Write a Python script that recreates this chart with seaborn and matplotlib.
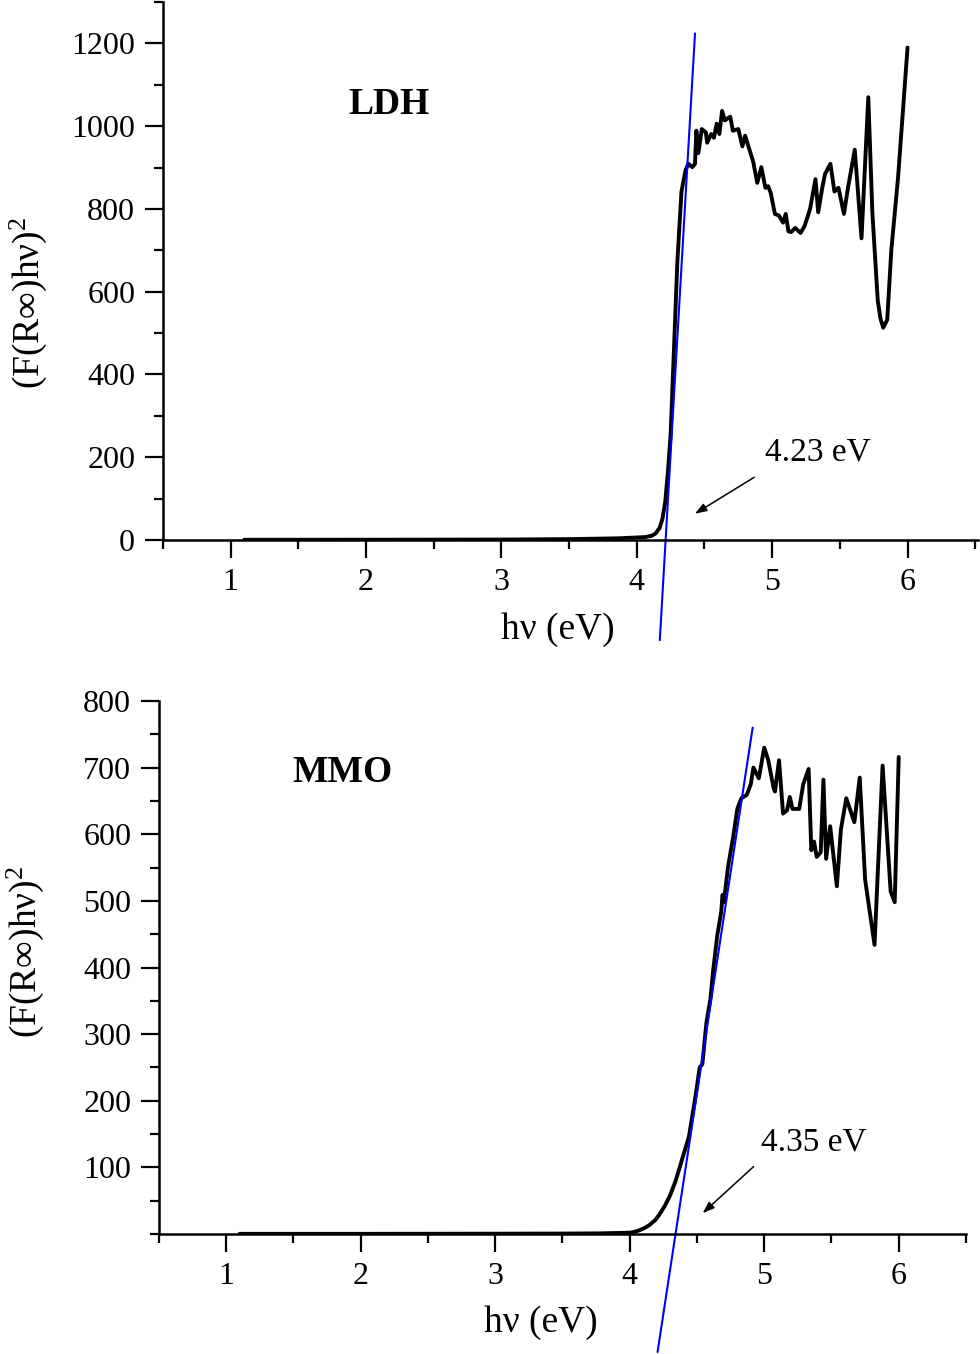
# Tauc plots (F(R)hv)^2 vs hv for LDH and MMO

import numpy as np
import pandas as pd
import matplotlib
matplotlib.use("Agg")
import matplotlib.pyplot as plt
from matplotlib.ticker import MultipleLocator
import seaborn as sns

# LDH curve
ldh_hv = [1.10, 1.50, 2.00, 2.50, 3.00, 3.50, 3.86, 4.00, 4.06, 4.11, 4.14, 4.17,
          4.19, 4.21, 4.23, 4.25, 4.27, 4.30, 4.33, 4.36, 4.38, 4.41, 4.43, 4.44,
          4.455, 4.48, 4.51, 4.52, 4.55, 4.57, 4.59, 4.61, 4.63, 4.65, 4.69, 4.71,
          4.75, 4.78, 4.80, 4.84, 4.86, 4.89, 4.92, 4.95, 4.97, 4.99, 5.02, 5.05,
          5.08, 5.10, 5.12, 5.14, 5.17, 5.21, 5.24, 5.28, 5.32, 5.34, 5.37, 5.39,
          5.43, 5.46, 5.49, 5.53, 5.56, 5.61, 5.66, 5.71, 5.74, 5.78, 5.80, 5.82,
          5.85, 5.88, 5.93, 6.00]
ldh_f = [0.5, 0.5, 0.6, 0.8, 1.0, 2.0, 4, 6, 7, 10, 16, 30,
         52, 92, 165, 256, 423, 675, 842, 893, 909, 901, 909, 989,
         935, 993, 985, 960, 981, 972, 1006, 981, 1037, 1014, 1023, 989,
         993, 951, 977, 935, 914, 863, 901, 851, 855, 838, 788, 784,
         767, 788, 746, 744, 754, 742, 759, 800, 872, 792, 851, 884,
         909, 842, 851, 788, 851, 943, 729, 1070, 792, 578, 535, 513,
         532, 700, 876, 1190]

# MMO curve
mmo_hv = [1.10, 1.50, 2.00, 2.50, 3.00, 3.50, 3.78, 4.00, 4.04, 4.07, 4.11, 4.15,
          4.19, 4.22, 4.26, 4.30, 4.34, 4.37, 4.44, 4.49, 4.52, 4.54, 4.57, 4.60,
          4.62, 4.65, 4.68, 4.69, 4.70, 4.73, 4.77, 4.80, 4.83, 4.87, 4.90, 4.92,
          4.96, 5.00, 5.03, 5.07, 5.08, 5.11, 5.14, 5.17, 5.19, 5.21, 5.26, 5.29,
          5.33, 5.35, 5.37, 5.39, 5.42, 5.44, 5.46, 5.49, 5.54, 5.57, 5.61, 5.67,
          5.71, 5.75, 5.82, 5.88, 5.94, 5.97, 6.00]
mmo_f = [0.3, 0.3, 0.3, 0.4, 0.5, 0.7, 1.0, 2, 3.5, 5.5, 9, 14,
         21, 29, 42, 58, 79, 99, 146, 208, 250, 255, 317, 353,
         395, 447, 483, 509, 498, 550, 597, 638, 654, 659, 675, 700,
         684, 730, 711, 669, 664, 711, 631, 636, 656, 638, 638, 675,
         698, 576, 589, 566, 573, 682, 563, 612, 522, 607, 654, 618,
         685, 532, 434, 703, 514, 498, 716]

# linear fits (band gap extrapolation)
ldh_fit_hv = [4.17, 4.43]
ldh_fit_f = [-242, 1224]
mmo_fit_hv = [4.207, 4.914]
mmo_fit_f = [-177, 760]

ldh_df = pd.DataFrame({"hv": ldh_hv, "F": ldh_f})
mmo_df = pd.DataFrame({"hv": mmo_hv, "F": mmo_f})

sns.set_style("ticks")
plt.rcParams["font.family"] = ["Liberation Serif", "DejaVu Serif"]
plt.rcParams["mathtext.fontset"] = "custom"
plt.rcParams["mathtext.rm"] = "Liberation Serif"
plt.rcParams["mathtext.it"] = "Liberation Serif:italic"
plt.rcParams["text.color"] = "black"
plt.rcParams["axes.labelcolor"] = "black"
plt.rcParams["xtick.color"] = "black"
plt.rcParams["ytick.color"] = "black"

fig = plt.figure(figsize=(9.8, 13.54), dpi=100)
ax1 = fig.add_axes([0.1663, 0.6012, 0.8316, 0.3973])
ax2 = fig.add_axes([0.1622, 0.0886, 0.8235, 0.3937])

ylab = "(F(R\u221e)h\u03bd)$^{2}$"


def style_axis(ax):
    sns.despine(ax=ax, top=True, right=True)
    for s in ["left", "bottom"]:
        ax.spines[s].set_linewidth(1.8)
        ax.spines[s].set_color("black")
    ax.tick_params(which="major", direction="out", length=13, width=1.6,
                   labelsize=23, colors="black", pad=7)
    ax.tick_params(which="minor", direction="out", length=6.5, width=1.6, colors="black")
    ax.xaxis.set_major_locator(MultipleLocator(1))
    ax.xaxis.set_minor_locator(MultipleLocator(0.5))
    ax.set_xlim(0.5, 6.52)


# top panel: LDH
sns.lineplot(data=ldh_df, x="hv", y="F", ax=ax1, color="black", lw=2.8, estimator=None)
ax1.plot(ldh_fit_hv, ldh_fit_f, color="#0000ff", lw=1.5, clip_on=False)
style_axis(ax1)
ax1.set_ylim(0, 1300)
ax1.set_yticks(np.arange(0, 1201, 200))
ax1.yaxis.set_minor_locator(MultipleLocator(100))
ax1.set_xlabel("h\u03bd (eV)", fontsize=27)
ax1.set_ylabel(ylab, fontsize=27)
ax1.xaxis.set_label_coords(0.485, -0.134)
ax1.yaxis.set_label_coords(-0.14, 0.44)
ax1.text(2.167, 1052, "LDH", fontsize=27, fontweight="bold", ha="center", va="center")
ax1.annotate("", xy=(4.412, 60), xytext=(4.885, 155),
             arrowprops=dict(arrowstyle="-|>,head_length=0.7,head_width=0.25", color="black", lw=1.1))
ax1.text(4.944, 213, "4.23 eV", fontsize=24, ha="left", va="center")

# bottom panel: MMO
sns.lineplot(data=mmo_df, x="hv", y="F", ax=ax2, color="black", lw=2.8, estimator=None)
ax2.plot(mmo_fit_hv, mmo_fit_f, color="#0000ff", lw=1.5, clip_on=False)
style_axis(ax2)
ax2.set_xlim(0.5, 6.5)
ax2.set_ylim(0, 800)
ax2.set_yticks(np.arange(100, 801, 100))
ax2.yaxis.set_minor_locator(MultipleLocator(50))
ax2.set_xlabel("h\u03bd (eV)", fontsize=27)
ax2.set_ylabel(ylab, fontsize=27)
ax2.xaxis.set_label_coords(0.473, -0.133)
ax2.yaxis.set_label_coords(-0.14, 0.53)
ax2.text(1.863, 692, "MMO", fontsize=27, fontweight="bold", ha="center", va="center")
ax2.annotate("", xy=(4.527, 28.5), xytext=(4.936, 104),
             arrowprops=dict(arrowstyle="-|>,head_length=0.7,head_width=0.25", color="black", lw=1.1))
ax2.text(4.973, 138, "4.35 eV", fontsize=24, ha="left", va="center")

fig.savefig("out.png", dpi=100, facecolor="white")
plt.close(fig)
